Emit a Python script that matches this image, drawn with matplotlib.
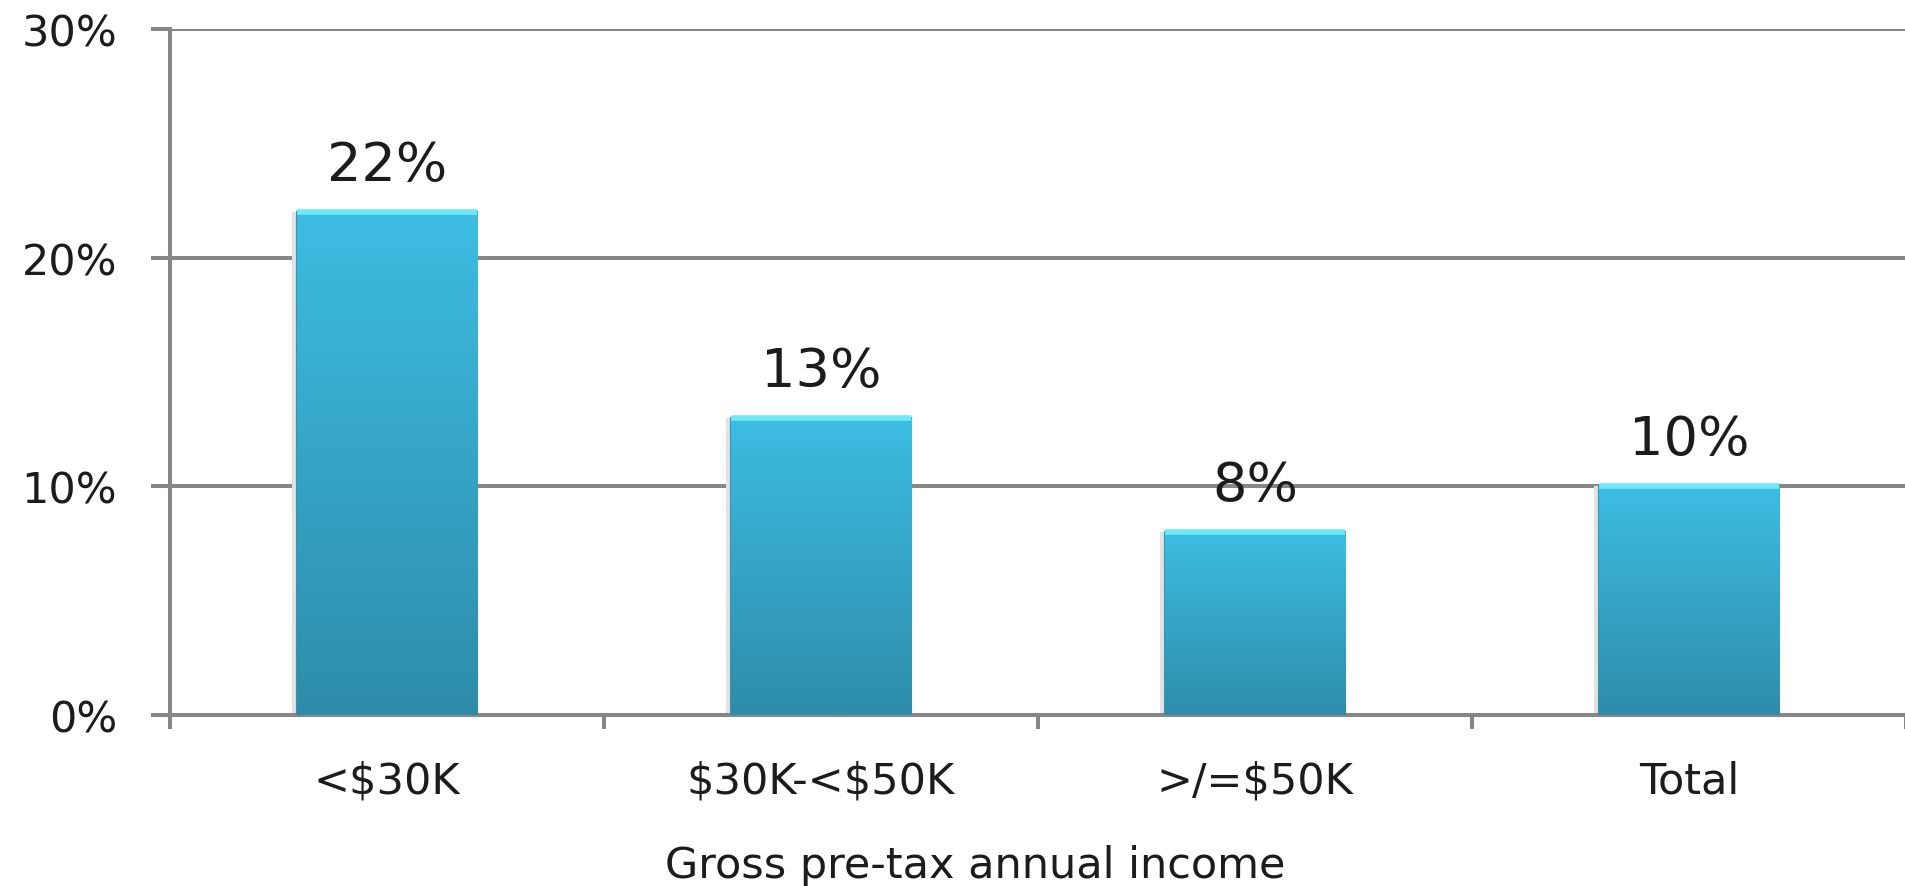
import numpy as np
from matplotlib import pyplot as plt
from matplotlib.colors import LinearSegmentedColormap
from matplotlib.ticker import FuncFormatter

# data
categories = ['<$30K', '$30K-<$50K', '>/=$50K', 'Total']
shares = [0.22, 0.13, 0.08, 0.10]
bar_labels = ['22%', '13%', '8%', '10%']
y_ticks = [0.0, 0.10, 0.20, 0.30]
x_title = 'Gross pre-tax annual income'

grey = '#878787'
text_col = '#1c1c1c'

plt.rcParams['font.family'] = ['DejaVu Sans']
plt.rcParams['text.parse_math'] = False

fig = plt.figure(figsize=(19.06, 8.87), dpi=100)
ax = fig.add_axes([170/1906, 1 - 716/887, 1 - 170/1906, (716 - 30)/887])

x = np.arange(len(categories))
bars = ax.bar(x, shares, width=0.415, color='#37aed3', edgecolor='#3a93ad',
              linewidth=1.5, zorder=3)

# vertical gradient inside each bar
grad_cmap = LinearSegmentedColormap.from_list('bar', ['#2e8caa', '#3dbde3'])
grad = np.linspace(0, 1, 256).reshape(-1, 1)
for b in bars:
    x0, y0 = b.get_x(), b.get_y()
    w, h = b.get_width(), b.get_height()
    im = ax.imshow(grad, cmap=grad_cmap, aspect='auto', origin='lower',
                   extent=(x0, x0 + w, y0, y0 + h), zorder=3)
    im.set_clip_path(b)
    # soft shadow on the left and light rim on top
    ax.bar(x0 - 0.012, h, width=0.012, align='edge', color='#e2e2e2', zorder=2)
    ax.hlines(y0 + h, x0, x0 + w, color='#6de9f7', linewidth=4, zorder=4)

for xi, v, lab in zip(x, shares, bar_labels):
    ax.annotate(lab, (xi, v), xytext=(0, 15), textcoords='offset points',
                ha='center', va='bottom', fontsize=39, color=text_col)

ax.set_xlim(-0.5, 3.5)
ax.set_ylim(0, 0.30)
ax.set_yticks(y_ticks)
ax.yaxis.set_major_formatter(FuncFormatter(lambda v, p: '{:.0f}%'.format(v * 100)))
ax.set_xticks(x)
ax.set_xticklabels(categories)
ax.set_xticks(np.arange(len(categories) + 1) - 0.5, minor=True)

ax.grid(axis='y', color=grey, linewidth=2.9, zorder=1)
ax.set_axisbelow(True)
for s in ['top', 'right']:
    ax.spines[s].set_visible(False)
for s in ['left', 'bottom']:
    ax.spines[s].set_color(grey)
    ax.spines[s].set_linewidth(2.9)

ax.tick_params(axis='y', length=14, width=2.9, color=grey, pad=24,
               labelsize=31, labelcolor=text_col)
ax.tick_params(axis='x', which='major', length=0, pad=32,
               labelsize=31, labelcolor=text_col)
ax.tick_params(axis='x', which='minor', length=10, width=2.9, color=grey)

ax.set_xlabel(x_title, fontsize=31, color=text_col, va='center')
ax.xaxis.set_label_coords(0.464, -0.219)

fig.savefig('out.png', dpi=100)
